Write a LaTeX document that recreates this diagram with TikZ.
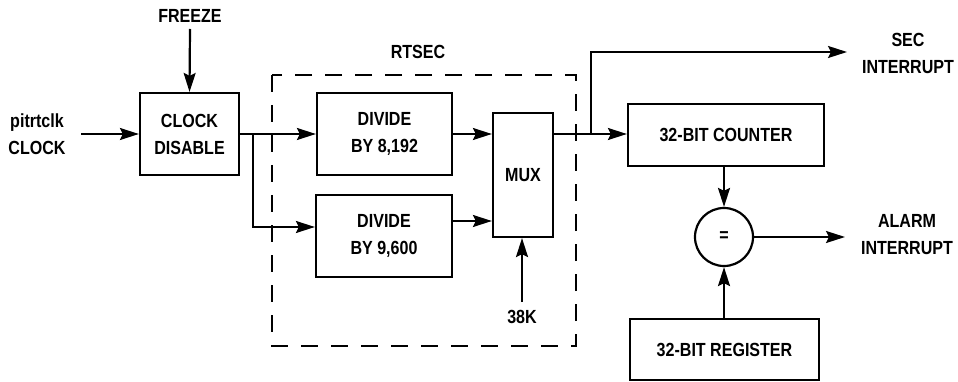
\documentclass[tikz,border=0pt]{standalone}
\usepackage{fontspec}
\setmainfont{Liberation Sans}[FakeStretch=0.845]
\usetikzlibrary{arrows.meta}
\begin{document}
\begin{tikzpicture}[x=1pt,y=-1pt,
  every node/.style={font=\bfseries\fontsize{19}{27}\selectfont, align=center, inner sep=0pt},
  blk/.style={draw, line width=2.2pt, minimum width=#1},
  lbl/.style={},
  arr/.style={line width=2.2pt, -{Stealth[length=19pt,width=12pt,inset=3pt]}},
  frame/.style={draw, line width=2.2pt, dash pattern=on 17pt off 13pt}
]
\useasboundingbox (0,0) rectangle (958,382);

% frame
\draw[frame] (272,75) rectangle (576,346);
\node[lbl] (rtsec) at (418,52) {RTSEC};

% blocks
\node[blk=99pt, minimum height=82pt] (cd) at (189.5,134) {CLOCK\\DISABLE};
\node[blk=135pt, minimum height=82pt] (d1) at (384.5,134) {DIVIDE\\BY 8,192};
\node[blk=136pt, minimum height=82pt] (d2) at (384,236) {DIVIDE\\BY 9,600};
\node[blk=60pt, minimum height=124pt] (mux) at (523,175) {MUX};
\node[blk=196pt, minimum height=62pt] (cnt) at (726,135) {32-BIT COUNTER};
\node[blk=189pt, minimum height=61pt] (reg) at (724.5,349.5) {32-BIT REGISTER};
\node[draw, circle, line width=2.2pt, minimum size=58pt] (eq) at (724,237) {=};

% labels
\node[lbl] (freeze) at (190,16) {FREEZE};
\node[lbl] (clk) at (37,134) {pitrtclk\\CLOCK};
\node[lbl] (k38) at (522,317) {38K};
\node[lbl] (sec) at (908,53) {SEC\\INTERRUPT};
\node[lbl] (alarm) at (907,235) {ALARM\\INTERRUPT};

% coordinates
\coordinate (clkin) at (81,134);
\coordinate (br1) at (253,134);
\coordinate (br2) at (591,134);
\coordinate (secend) at (847,52);
\coordinate (alend) at (845,237);
\coordinate (k38top) at (522,302);
\coordinate (frzbot) at (190,29);

% connectors
\draw[arr] (clkin) -- (cd.west);
\draw[arr] (frzbot) -- (cd.north);
\draw[arr] (cd.east) -- (d1.west);
\draw[arr] (br1) -- (br1 |- 0,227) -- (d2.west |- 0,227);
\draw[arr] (d1.east) -- (mux.west |- d1.east);
\draw[arr] (d2.east |- 0,221) -- (mux.west |- 0,221);
\draw[arr] (k38top) -- (mux.south -| k38top);
\draw[arr] (mux.east |- br2) -- (cnt.west |- br2);
\draw[arr] (br2) -- (br2 |- secend) -- (secend);
\draw[arr] (cnt.south -| eq) -- (eq.north);
\draw[arr] (eq.east) -- (alend);
\draw[arr] (reg.north -| eq) -- (eq.south);
\end{tikzpicture}
\end{document}
